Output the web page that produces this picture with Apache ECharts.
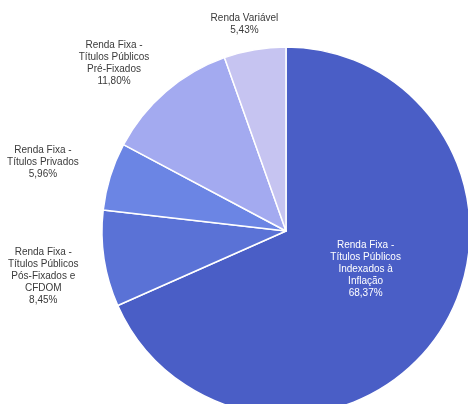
<!DOCTYPE html>
<html>
<head>
<meta charset="utf-8">
<script src="https://cdn.jsdelivr.net/npm/echarts@6/dist/echarts.min.js"></script>
<style>
  html, body { margin: 0; padding: 0; background: #fff; }
  #chart { width: 468px; height: 404px; }
</style>
</head>
<body>
<div id="chart"></div>
<script>
// Portfolio allocation by asset class (percent of total)
const categories = [
  'Renda Fixa -\nTítulos Públicos\nIndexados à\nInflação',
  'Renda Fixa -\nTítulos Públicos\nPós-Fixados e\nCFDOM',
  'Renda Fixa -\nTítulos Privados',
  'Renda Fixa -\nTítulos Públicos\nPré-Fixados',
  'Renda Variável'
];
const shares = [68.37, 8.45, 5.96, 11.80, 5.43];
const colors = ['#4a5ec6', '#5a72d6', '#6b85e4', '#a3aaf0', '#c6c4f1'];

// pie geometry and label placement tweaks
const CX = 286, CY = 231, R = 184;
const labelGap = [0, 12, 10, 12, 8];
const labelShift = [[0, -14], [-10, 10], [-20, 1], [-17, 12], [-6, 0]];
const total = shares.reduce((a, b) => a + b, 0);

function fmt(v) { return v.toFixed(2).replace('.', ',') + '%'; }

const chart = echarts.init(document.getElementById('chart'), null, { renderer: 'canvas' });
chart.setOption({
  animation: false,
  series: [{
    type: 'pie',
    center: [CX, CY],
    radius: R,
    startAngle: 90,
    clockwise: true,
    avoidLabelOverlap: false,
    itemStyle: { borderColor: '#ffffff', borderWidth: 1.5 },
    label: {
      show: true,
      position: 'outside',
      fontFamily: 'Liberation Sans, Arial, sans-serif',
      fontSize: 10,
      lineHeight: 12,
      color: '#3a3a3a',
      formatter: p => p.name + '\n' + fmt(p.value)
    },
    labelLine: { show: false, length: 4, length2: 0 },
    labelLayout: function (params) {
      const i = params.dataIndex;
      const s = labelShift[i];
      if (i === 0) return { dx: s[0], dy: s[1] };
      let cum = 0;
      for (let k = 0; k < i; k++) cum += shares[k];
      const mid = (cum + shares[i] / 2) / total;
      const th = -Math.PI / 2 + mid * Math.PI * 2;
      const ux = Math.cos(th), uy = Math.sin(th);
      const w = params.labelRect.width, h = params.labelRect.height;
      const ext = Math.abs(ux) * w / 2 + Math.abs(uy) * h / 2;
      const rho = R + labelGap[i] + ext;
      return {
        x: CX + rho * ux + s[0],
        y: CY + rho * uy + s[1],
        align: 'center',
        verticalAlign: 'middle'
      };
    },
    data: categories.map((name, i) => ({
      name: name,
      value: shares[i],
      itemStyle: { color: colors[i] },
      label: i === 0 ? { position: 'inside', color: '#ffffff' } : {}
    }))
  }]
});
</script>
</body>
</html>
